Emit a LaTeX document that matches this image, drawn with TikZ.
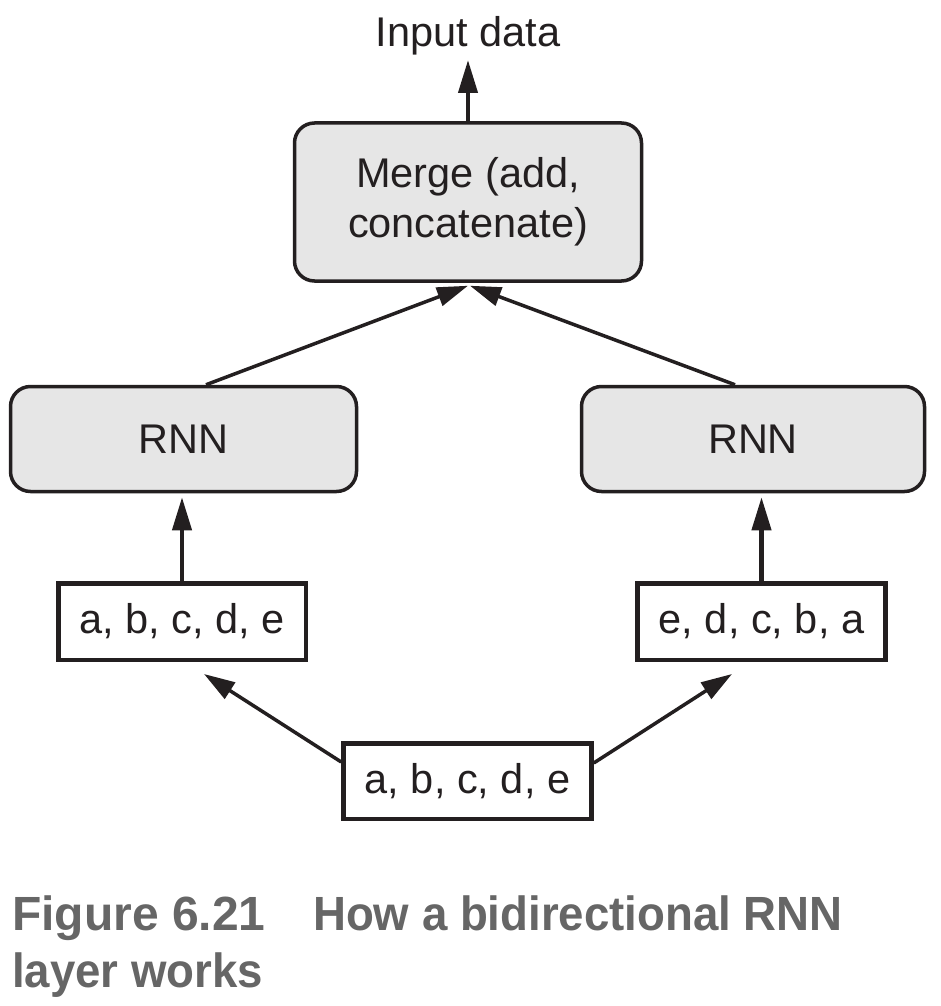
\documentclass[tikz,border=0pt]{standalone}
\usepackage{fontspec}
\setmainfont{Liberation Sans}
\usetikzlibrary{arrows.meta,calc}
\definecolor{ink}{HTML}{231F20}
\definecolor{boxfill}{HTML}{E6E6E6}
\definecolor{capgray}{HTML}{666666}
\begin{document}
\begin{tikzpicture}[x=1pt,y=-1pt,
  lbl/.style={font=\fontsize{41.5}{50}\selectfont, text=ink},
  rnnbox/.style={lbl, draw=ink, line width=3.5pt, fill=boxfill, rounded corners=20pt, inner sep=0pt},
  seqbox/.style={lbl, draw=ink, line width=4.5pt, fill=white, inner sep=0pt},
  arr/.style={draw=ink, line width=4.2pt, -{Triangle[length=33pt,width=19pt]}},
  darr/.style={draw=ink, line width=3.5pt, -{Triangle[length=31pt,width=19pt]}},
  captext/.style={font=\fontsize{48}{57}\bfseries\selectfont, text=capgray, inner sep=0pt, anchor=base west}]
\useasboundingbox (0,0) rectangle (940,1006);

\node[lbl, anchor=base, inner sep=0pt] (input) at (468,47) {Input data};
\node[rnnbox, minimum width=347pt, minimum height=158pt, align=center] (merge) at (468,202) {Merge (add,\\concatenate)};
\node[rnnbox, minimum width=346pt, minimum height=105pt] (rnnL) at (183.5,439) {RNN};
\node[rnnbox, minimum width=343pt, minimum height=105pt] (rnnR) at (753,439) {RNN};
\node[seqbox, minimum width=247.5pt, minimum height=76.5pt] (seqL) at (182,621.5) {a, b, c, d, e};
\node[seqbox, minimum width=248pt, minimum height=76.5pt] (seqR) at (761.5,621.5) {e, d, c, b, a};
\node[seqbox, minimum width=248pt, minimum height=75.5pt] (seqB) at (467.5,781) {a, b, c, d, e};

\coordinate (inTip) at (468,60);
\draw[arr] (merge.north) -- (inTip);
\draw[arr, shorten >=4pt] (seqL.north) -- (seqL.north |- rnnL.south);
\draw[arr, shorten >=4pt] (seqR.north) -- (seqR.north |- rnnR.south);

\draw[darr] ([xshift=22.5pt]rnnL.north) -- ([yshift=-3pt]merge.south);
\draw[darr] ([xshift=-18pt]rnnR.north) -- ([xshift=2pt,yshift=-3pt]merge.south);

\draw[darr] ([yshift=19pt]seqB.west) -- ([xshift=22pt,yshift=-12pt]seqL.south);
\draw[darr] ([yshift=18pt]seqB.east) -- ([xshift=-29.5pt,yshift=-12pt]seqR.south);

\node[captext] (cap1a) at (12,930) {\scalebox{1.0}[1]{Figure 6.21}};
\node[captext] (cap1b) at (313,930) {\scalebox{0.95}[1]{How a bidirectional RNN}};
\node[captext] (cap2) at (12,987) {\scalebox{0.95}[1]{layer works}};
\end{tikzpicture}
\end{document}
